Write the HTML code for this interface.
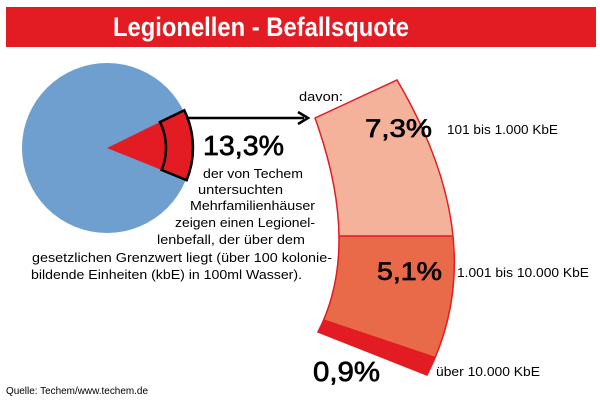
<!DOCTYPE html>
<html><head><meta charset="utf-8"><style>
html,body{margin:0;padding:0;background:#fff;}
svg{display:block;font-family:"Liberation Sans",sans-serif;}
</style></head><body>
<svg width="600" height="400" viewBox="0 0 600 400" xmlns="http://www.w3.org/2000/svg">
<rect x="6" y="7" width="590" height="40" fill="#e31b23"/>
<text x="261" y="36" text-anchor="middle" font-size="27" font-weight="bold" fill="#fff" textLength="296" lengthAdjust="spacingAndGlyphs">Legionellen - Befallsquote</text>

<circle cx="107" cy="148" r="85" fill="#6e9fcf"/>
<path d="M107,148 L160,122 A59,59 0 0 1 161.7,170 Z" fill="#e31b23"/>
<path d="M160,122 L184.3,110.3 A86,86 0 0 1 186.7,180.2 L161.7,170 A59,59 0 0 0 160,122 Z" fill="#e31b23" stroke="#000" stroke-width="2.5" stroke-linejoin="miter"/>

<line x1="186" y1="118" x2="304" y2="118" stroke="#000" stroke-width="2.5"/>
<path d="M298,112 L308,118 L298,124" fill="none" stroke="#000" stroke-width="2.5"/>

<defs>
<clipPath id="band"><path d="M315,118 L397,80 Q494,244.5 427,375 L318,332 Q361.5,247 315,118 Z"/></clipPath>
</defs>
<g clip-path="url(#band)">
<rect x="290" y="60" width="200" height="176" fill="#f4b29b"/>
<rect x="290" y="236" width="200" height="160" fill="#e96a48"/>
<polygon points="290,310 323,319 433,356 470,371 470,400 290,400" fill="#e31b23"/>
<line x1="290" y1="236" x2="490" y2="236" stroke="#e31b23" stroke-width="1.5"/>
</g>
<path d="M315,118 L397,80 Q494,244.5 427,375 L318,332 Q361.5,247 315,118 Z" fill="none" stroke="#e31b23" stroke-width="1.5"/>

<g stroke="#000" stroke-width="0.7">
<text x="365" y="137" font-size="25" textLength="67" lengthAdjust="spacingAndGlyphs">7,3%</text>
<text x="377" y="280" font-size="25" textLength="65" lengthAdjust="spacingAndGlyphs">5,1%</text>
<text x="313" y="381" font-size="28" textLength="67" lengthAdjust="spacingAndGlyphs">0,9%</text>
<text x="203" y="155" font-size="28" textLength="81" lengthAdjust="spacingAndGlyphs">13,3%</text>
</g>
<text x="299" y="101" font-size="13" textLength="44" lengthAdjust="spacingAndGlyphs">davon:</text>
<text x="447" y="134" font-size="12.5" textLength="111" lengthAdjust="spacingAndGlyphs">101 bis 1.000 KbE</text>
<text x="457" y="277" font-size="12.5" textLength="132" lengthAdjust="spacingAndGlyphs">1.001 bis 10.000 KbE</text>
<text x="436" y="376" font-size="12.5" textLength="104" lengthAdjust="spacingAndGlyphs">über 10.000 KbE</text>

<g font-size="13">
<text x="203" y="178" textLength="100" lengthAdjust="spacingAndGlyphs">der von Techem</text>
<text x="198" y="194" textLength="85" lengthAdjust="spacingAndGlyphs">untersuchten</text>
<text x="190" y="210" textLength="125" lengthAdjust="spacingAndGlyphs">Mehrfamilienhäuser</text>
<text x="175" y="227" textLength="140" lengthAdjust="spacingAndGlyphs">zeigen einen Legionel-</text>
<text x="157" y="244" textLength="148" lengthAdjust="spacingAndGlyphs">lenbefall, der über dem</text>
<text x="32" y="262" textLength="300" lengthAdjust="spacingAndGlyphs">gesetzlichen Grenzwert liegt (über 100 kolonie-</text>
<text x="31" y="279" textLength="271" lengthAdjust="spacingAndGlyphs">bildende Einheiten (kbE) in 100ml Wasser).</text>
</g>
<text x="6" y="394" font-size="10" textLength="142" lengthAdjust="spacingAndGlyphs">Quelle: Techem/www.techem.de</text>
</svg>
</body></html>
